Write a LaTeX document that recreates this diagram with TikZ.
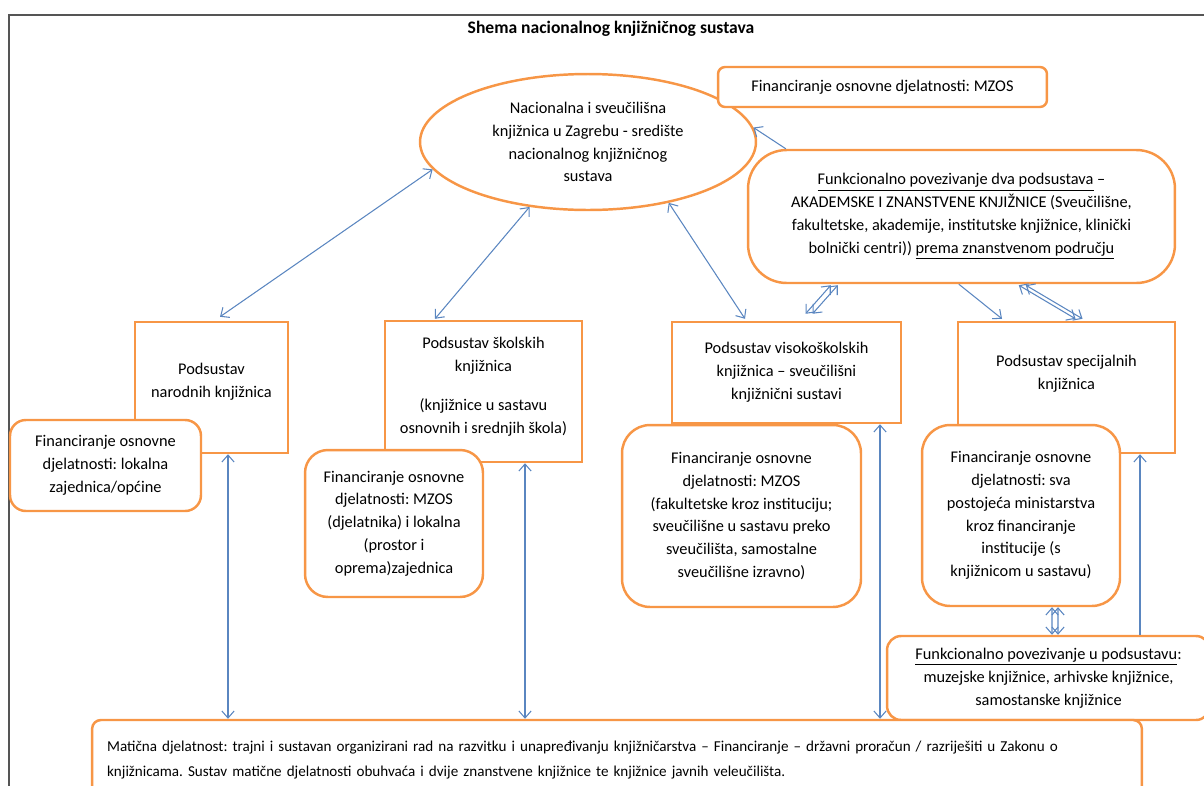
\documentclass[tikz,border=0pt]{standalone}
\usepackage{fontspec}
\setmainfont{Carlito}
\usepackage{tikz}
\usetikzlibrary{arrows.meta,calc,shapes.geometric}
\frenchspacing

\definecolor{boxorange}{HTML}{F79646}
\definecolor{linkblue}{HTML}{5A86C0}
\definecolor{framegray}{HTML}{555555}

\tikzset{
  sub/.style={draw=boxorange, line width=1.4pt, fill=white, inner sep=0pt, align=center,
    font=\fontsize{9.3}{13}\selectfont},
  fin/.style={sub, rounded corners=10pt},
  link/.style={draw=linkblue, line width=0.6pt},
  >={Straight Barb[length=4pt,width=7pt]},
}

\begin{document}
\begin{tikzpicture}[x=0.02cm,y=-0.02cm]

  \useasboundingbox (0,0) rectangle (1204,785);
  \draw[framegray, line width=0.9pt] (9,790) -- (9,15) -- (1210,15);

  \node[font=\fontsize{10}{12}\selectfont\bfseries] (title) at (611,29) {Shema nacionalnog knjižničnog sustava};

  % sredisnja knjiznica
  \node[sub, ellipse] (nsk) [minimum width=6.72cm, minimum height=2.72cm] at (588,142)
    {Nacionalna i sveučilišna\\ knjižnica u Zagrebu - središte\\ nacionalnog knjižničnog\\ sustava};
  \node[sub, rounded corners=4pt] (mzos) [minimum width=6.58cm, minimum height=0.8cm] at (882.5,87)
    {Financiranje osnovne djelatnosti: MZOS};
  \node[sub, rounded corners=22pt] (funk) [minimum width=8.54cm, minimum height=2.66cm] at (961.5,216.5)
    {\underline{Funkcionalno povezivanje dva podsustava} --\\
     AKADEMSKE I ZNANSTVENE KNJIŽNICE (Sveučilišne,\\
     fakultetske, akademije, institutske knjižnice, klinički\\
     bolnički centri)) \underline{prema znanstvenom području}};

  % podsustavi
  \node[sub] (narodni) [minimum width=3.06cm, minimum height=2.62cm] at (211.5,387.5)
    {Podsustav\\ narodnih knjižnica\\[-5pt]\mbox{}};
  \node[sub] (skolski) [minimum width=3.94cm, minimum height=2.82cm] at (483.5,391.5)
    {Podsustav školskih\\ knjižnica\\[9pt] (knjižnice u sastavu\\ osnovnih i srednjih škola)\\[-6pt]\mbox{}};
  \node[sub] (visoko) [minimum width=4.58cm, minimum height=2.02cm] at (786.5,372.5)
    {Podsustav visokoškolskih\\ knjižnica -- sveučilišni\\ knjižnični sustavi};
  \node[sub] (spec) [minimum width=4.34cm, minimum height=2.62cm] at (1066.5,387.5)
    {Podsustav specijalnih\\ knjižnica\\[4pt]\mbox{}};

  % financiranje
  \node[fin, rounded corners=9pt] (finnar) [minimum width=3.82cm, minimum height=1.82cm] at (105.5,465.5)
    {Financiranje osnovne\\ djelatnosti: lokalna\\ zajednica/općine};
  \node[fin, rounded corners=13pt] (finskol) [minimum width=3.56cm, minimum height=2.94cm] at (394,523.5)
    {Financiranje osnovne\\ djelatnosti: MZOS\\ (djelatnika) i lokalna\\ (prostor i\\ oprema)zajednica};
  \node[fin, rounded corners=16pt] (finvis) [minimum width=4.78cm, minimum height=3.64cm] at (741.5,516)
    {Financiranje osnovne\\ djelatnosti: MZOS\\ (fakultetske kroz instituciju;\\ sveučilišne u sastavu preko\\ sveučilišta, samostalne\\ sveučilišne izravno)};
  \node[fin, rounded corners=16pt] (finspec) [minimum width=3.96cm, minimum height=3.62cm] at (1021,515.5)
    {Financiranje osnovne\\ djelatnosti: sva\\ postojeća ministarstva\\ kroz financiranje\\ institucije (s\\ knjižnicom u sastavu)};

  \node[sub, rounded corners=8pt] (funk2) [minimum width=6.46cm, minimum height=1.68cm] at (1048.5,678)
    {\underline{Funkcionalno povezivanje u podsustavu}:\\ muzejske knjižnice, arhivske knjižnice,\\ samostanske knjižnice};

  \node[sub, rounded corners=5pt, align=left, font=\fontsize{8.6}{14}\selectfont] (maticna)
    [minimum width=21cm, minimum height=1.6cm, text width=20.4cm] at (617,760)
    {Matična djelatnost: trajni i sustavan organizirani rad na razvitku i unapređivanju knjižničarstva -- Financiranje -- državni proračun / razriješiti u Zakonu o\\
     knjižnicama. Sustav matične djelatnosti obuhvaća i dvije znanstvene knjižnice te knjižnice javnih veleučilišta.};

  % veze sa sredisnjom knjiznicom
  \draw[link,<->] (nsk.190) -- ($(narodni.north)+(8.5,-4)$);
  \draw[link,<->] (nsk.228) -- ($(skolski.north)+(-48.5,-1)$);
  \draw[link,<->] (nsk.323) -- ($(visoko.north)+(-41.5,-2)$);
  \draw[link,->] ($(funk.north west)+(39,0)$) -- (nsk.5);

  % funkcionalno povezivanje
  \draw[link,<->] ($(funk.south west)+(84,1)$) -- ($(visoko.north)+(19,-7)$);
  \draw[link,<->] ($(funk.south west)+(91,1)$) -- ($(visoko.north)+(26,-7)$);
  \draw[link,->] ($(funk.south west)+(212,0)$) -- ($(spec.north)+(-64.5,-2)$);
  \draw[link,<->] ($(funk.south west)+(272,1)$) -- ($(spec.north)+(9,-2)$);
  \draw[link,<->] ($(funk.south west)+(279,1)$) -- ($(spec.north)+(16,-2)$);
  \draw[link,<->] ($(finspec.south)+(31,0)$) -- ($(funk2.north)+(31-27.5,0)$);
  \draw[link,<->] ($(finspec.south)+(37,0)$) -- ($(funk2.north)+(37-27.5,0)$);

  % veze s maticnom djelatnoscu
  \coordinate (v1) at ($(narodni.south)+(16.5,0)$);
  \coordinate (v2) at ($(skolski.south)+(41.5,0)$);
  \coordinate (v3) at ($(visoko.south)+(93.5,0)$);
  \coordinate (v4) at ($(spec.south)+(73.5,0)$);
  \draw[link,<->] (v1) -- (v1 |- maticna.north);
  \draw[link,<->] (v2) -- (v2 |- maticna.north);
  \draw[link,<->] (v3) -- (v3 |- maticna.north);
  \draw[link,->] (v4 |- funk2.north) -- (v4);

\end{tikzpicture}
\end{document}
